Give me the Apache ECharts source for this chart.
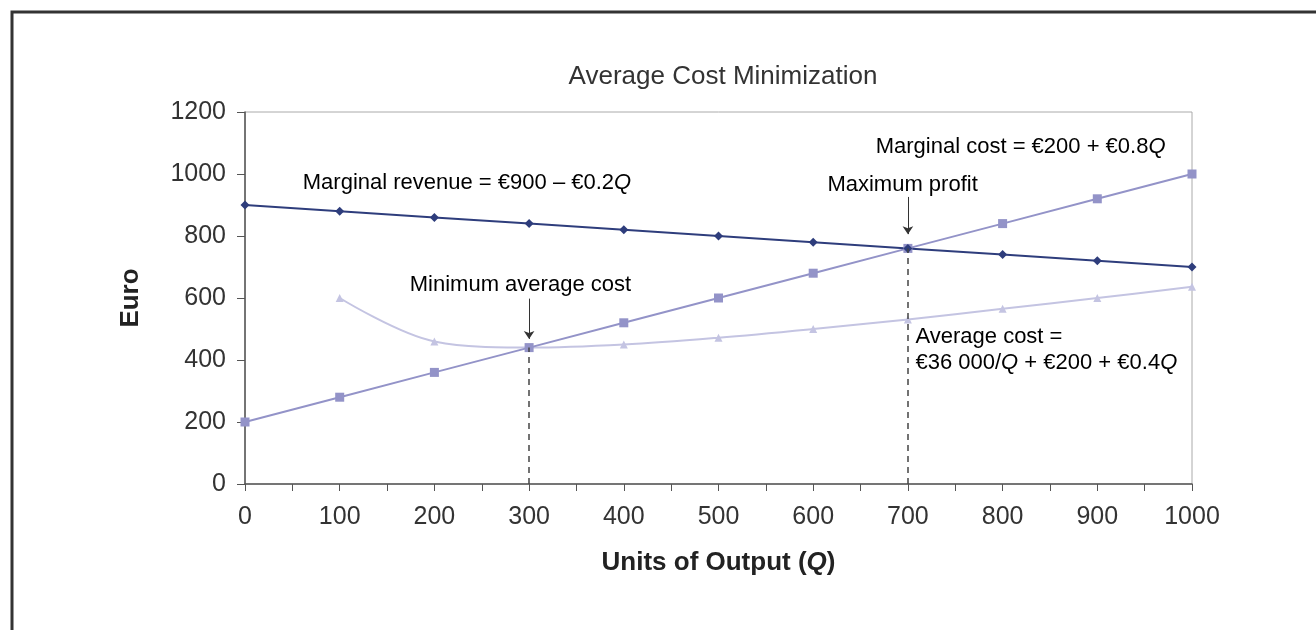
<!DOCTYPE html>
<html><head><meta charset="utf-8">
<script src="https://cdn.jsdelivr.net/npm/echarts@6/dist/echarts.min.js"></script>
<style>html,body{margin:0;padding:0;background:#fff}#c{width:1316px;height:630px}</style>
</head><body><div id="c"></div>
<script>
const quantities = [0,100,200,300,400,500,600,700,800,900,1000];
const marginalRevenue = [900,880,860,840,820,800,780,760,740,720,700];
const marginalCost = [200,280,360,440,520,600,680,760,840,920,1000];
const averageCost = [null,600,460,440,450,472,500,531,565,600,636];
const yTicks = [0,200,400,600,800,1000,1200];
const xTicks = [0,100,200,300,400,500,600,700,800,900,1000];

const pairs = (ys) => quantities.map((q,i) => [q, ys[i]]).filter(p => p[1] !== null);
const F = '"Liberation Sans", Arial, sans-serif';
const chart = echarts.init(document.getElementById('c'));
chart.setOption({
  animation: false,
  backgroundColor: '#fff',
  title: { text: 'Average Cost Minimization', left: 718, top: 59, textAlign: 'center',
    textStyle: { fontFamily: F, fontSize: 26, fontWeight: 'normal', color: '#333' } },
  grid: { left: 245, right: 124, top: 112, bottom: 146, show: true, borderColor: '#aaa', borderWidth: 1 },
  xAxis: { type: 'value', min: 0, max: 1000, interval: 50,
    name: '{b|Units of Output (}{bi|Q}{b|)}', nameLocation: 'middle', nameGap: 66,
    nameTextStyle: { fontFamily: F, fontSize: 26, fontWeight: 'bold', color: '#222',
      rich: { b: { fontFamily: F, fontSize: 26, fontWeight: 'bold', color: '#222' },
              bi: { fontFamily: F, fontSize: 26, fontWeight: 'bold', fontStyle: 'italic', color: '#222' } } },
    axisLine: { lineStyle: { color: '#555', width: 1.5 } },
    axisTick: { length: 7, lineStyle: { color: '#555' } },
    splitLine: { show: false },
    axisLabel: { fontFamily: F, fontSize: 25, color: '#333', margin: 21,
      formatter: v => xTicks.includes(v) ? String(v) : '' } },
  yAxis: { type: 'value', min: 0, max: 1200, interval: 200,
    name: 'Euro', nameLocation: 'middle', nameGap: 101, nameRotate: 90,
    nameTextStyle: { fontFamily: F, fontSize: 26, fontWeight: 'bold', color: '#222' },
    axisLine: { show: true, lineStyle: { color: '#555', width: 1.5 } },
    axisTick: { show: true, length: 8, lineStyle: { color: '#555' } },
    splitLine: { show: false },
    axisLabel: { fontFamily: F, fontSize: 25, color: '#333', margin: 19,
      formatter: v => yTicks.includes(v) ? String(v) : '' } },
  series: [
    { name: 'Average cost', type: 'line', smooth: 0.35, data: pairs(averageCost),
      symbol: 'triangle', symbolSize: 8,
      lineStyle: { color: '#c4c4e2', width: 2 }, itemStyle: { color: '#c4c4e2' } },
    { name: 'Marginal cost', type: 'line', data: pairs(marginalCost),
      symbol: 'rect', symbolSize: 9,
      lineStyle: { color: '#9393c8', width: 2 }, itemStyle: { color: '#9393c8' } },
    { name: 'Marginal revenue', type: 'line', data: pairs(marginalRevenue),
      symbol: 'diamond', symbolSize: 9,
      lineStyle: { color: '#2e3d7c', width: 2 }, itemStyle: { color: '#2e3d7c' },
      markLine: { silent: true, animation: false, label: { show: false },
        data: [
          [{ coord: [300, 0], symbol: 'none' }, { coord: [300, 440], symbol: 'none',
            lineStyle: { type: [6,5], color: '#444', width: 1.5 } }],
          [{ coord: [700, 0], symbol: 'none' }, { coord: [700, 760], symbol: 'none',
            lineStyle: { type: [6,5], color: '#444', width: 1.5 } }],
          [{ coord: [300, 598], symbol: 'none' }, { coord: [300, 468], symbol: 'arrow', symbolSize: 8,
            lineStyle: { type: 'solid', color: '#333', width: 1 } }],
          [{ coord: [700, 926], symbol: 'none' }, { coord: [700, 806], symbol: 'arrow', symbolSize: 8,
            lineStyle: { type: 'solid', color: '#333', width: 1 } }]
        ],
        lineStyle: { type: [6,5], color: '#444', width: 1.5 } } }
  ]
});

const notes = [
  { x: 61, y: 971, lines: [[['Marginal revenue = €900 – €0.2', false], ['Q', true]]] },
  { x: 666, y: 1087, lines: [[['Marginal cost = €200 + €0.8', false], ['Q', true]]] },
  { x: 615, y: 965, lines: [[['Maximum profit', false]]] },
  { x: 174, y: 642, lines: [[['Minimum average cost', false]]] },
  { x: 708, y: 432, lines: [[['Average cost =', false]], [['€36 000/', false], ['Q', true], [' + €200 + €0.4', false], ['Q', true]]] }
];
const graphics = [{ type: 'rect', shape: { x: 12, y: 12, width: 1400, height: 700 },
  style: { fill: 'none', stroke: '#333', lineWidth: 3 }, z: 10 }];
notes.forEach(n => {
  const p = chart.convertToPixel({ gridIndex: 0 }, [n.x, n.y]);
  const text = n.lines.map(line => line.map(([t, it]) => '{' + (it ? 'i' : 'n') + '|' + t + '}').join('')).join('\n');
  graphics.push({ type: 'text', x: p[0], y: p[1], z: 20,
    style: { text, verticalAlign: 'middle',
      rich: { n: { fontFamily: F, fontSize: 22, color: '#333', lineHeight: 26 },
              i: { fontFamily: F, fontSize: 22, color: '#333', fontStyle: 'italic', lineHeight: 26 } } } });
});
chart.setOption({ graphic: graphics });
</script></body></html>
